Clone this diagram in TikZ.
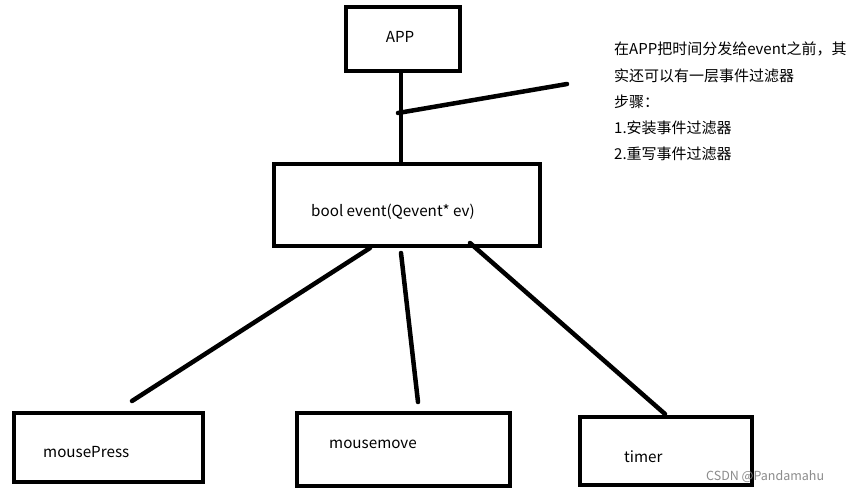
\documentclass[tikz,border=0pt]{standalone}
\usepackage{fontspec}
\setmainfont{Noto Sans CJK SC}
\begin{document}
\begin{tikzpicture}[x=1pt,y=-1pt,
  box/.style={draw=black,line width=4pt,inner sep=0pt},
  lbl/.style={font=\fontsize{15.2}{17}\selectfont,inner sep=0pt},
  link/.style={line width=4.5pt,line cap=round}]
\useasboundingbox[fill=white] (0,0) rectangle (853,493);
% boxes
\draw[box] (346,7) rectangle (460,71);
\draw[box] (274,164) rectangle (540,246);
\draw[box] (14,413) rectangle (203,482);
\draw[box] (297,413) rectangle (510,486);
\draw[box] (580,417) rectangle (752,485);
% labels
\node[lbl] (app) at (400,37) {APP};
\node[lbl,anchor=west] (ev) at (311,212) {bool event(Qevent* ev)};
\node[lbl,anchor=west] (mp) at (43,452) {mousePress};
\node[lbl,anchor=west] (mm) at (329,444) {mousemove};
\node[lbl,anchor=west] (tm) at (624,457) {timer};
% connector endpoints
\coordinate (appb) at (401,71);
\coordinate (evt) at (401,164);
\coordinate (jn) at (398,113);
\coordinate (fl) at (567,84);
\coordinate (e1) at (370,248);
\coordinate (e2) at (401,253);
\coordinate (e3) at (470,243);
\coordinate (m1) at (132,401);
\coordinate (m2) at (418,402);
\coordinate (m3) at (665,414);
\draw[line width=4pt] (appb) -- (evt);
\draw[link] (jn) -- (fl);
\draw[link] (e1) -- (m1);
\draw[link] (e2) -- (m2);
\draw[link] (e3) -- (m3);
% note
\node[font=\fontsize{15}{26.2}\selectfont,anchor=north west,align=left,inner sep=0pt] (note) at (614,42)
 {在APP把时间分发给event之前，其\\实还可以有一层事件过滤器\\步骤：\\1.安装事件过滤器\\2.重写事件过滤器};
\node[font=\fontsize{12.5}{14}\selectfont,text=black!45,anchor=west,inner sep=0pt] (wm) at (706,477) {CSDN @Pandamahu};
\end{tikzpicture}
\end{document}
